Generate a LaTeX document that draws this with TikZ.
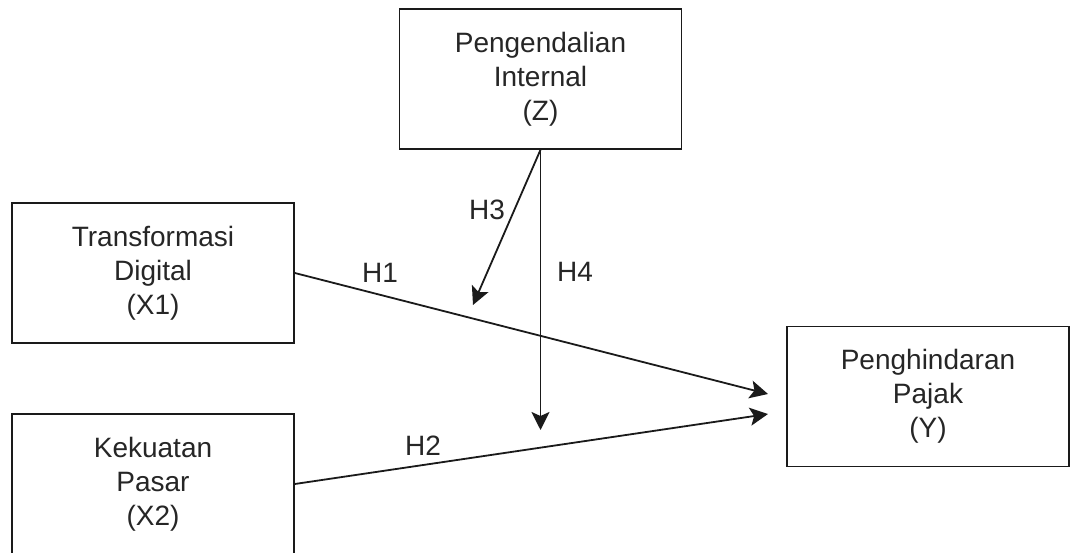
\documentclass[tikz,border=0pt]{standalone}
\usepackage{fontspec}
\setmainfont{Liberation Sans}
\usetikzlibrary{arrows.meta}
\definecolor{txt}{HTML}{262626}
\definecolor{ln}{HTML}{1A1A1A}
\begin{document}
\begin{tikzpicture}[x=1pt,y=-1pt,
  varbox/.style={draw=ln, line width=1.6pt, fill=white, minimum width=282pt, minimum height=140pt,
    align=center, text=txt, font=\fontsize{28}{34}\selectfont, inner sep=0pt},
  hlabel/.style={text=txt, font=\fontsize{28}{34}\selectfont, inner sep=0pt},
  link/.style={draw=ln, line width=1.8pt, -{Stealth[length=18pt,width=18pt,inset=4pt]}}]
\useasboundingbox (0,0) rectangle (1072,553);
\fill[white] (0,0) rectangle (1072,553);
\node[varbox] (Z) at (540.5,79) {Pengendalian\\Internal\\(Z)};
\node[varbox] (X1) at (153,273) {Transformasi\\Digital\\(X1)};
\node[varbox] (X2) at (153,484) {Kekuatan\\Pasar\\(X2)};
\node[varbox] (Y) at (928,396.5) {Penghindaran\\Pajak\\(Y)};
\coordinate (y1) at (768,394);
\coordinate (y2) at (768,414);
\coordinate (h3end) at (473,305);
\coordinate (h4end) at (540.5,430);
\draw[link] (X1.east) -- (y1);
\draw[link] (X2.east) -- (y2);
\draw[link] (Z.south) -- (h3end);
\draw[link] (Z.south) -- (h4end);
\node[hlabel] (H1) at (380,273) {H1};
\node[hlabel] (H2) at (423,446) {H2};
\node[hlabel] (H3) at (487,210) {H3};
\node[hlabel] (H4) at (575,272) {H4};
\end{tikzpicture}
\end{document}
